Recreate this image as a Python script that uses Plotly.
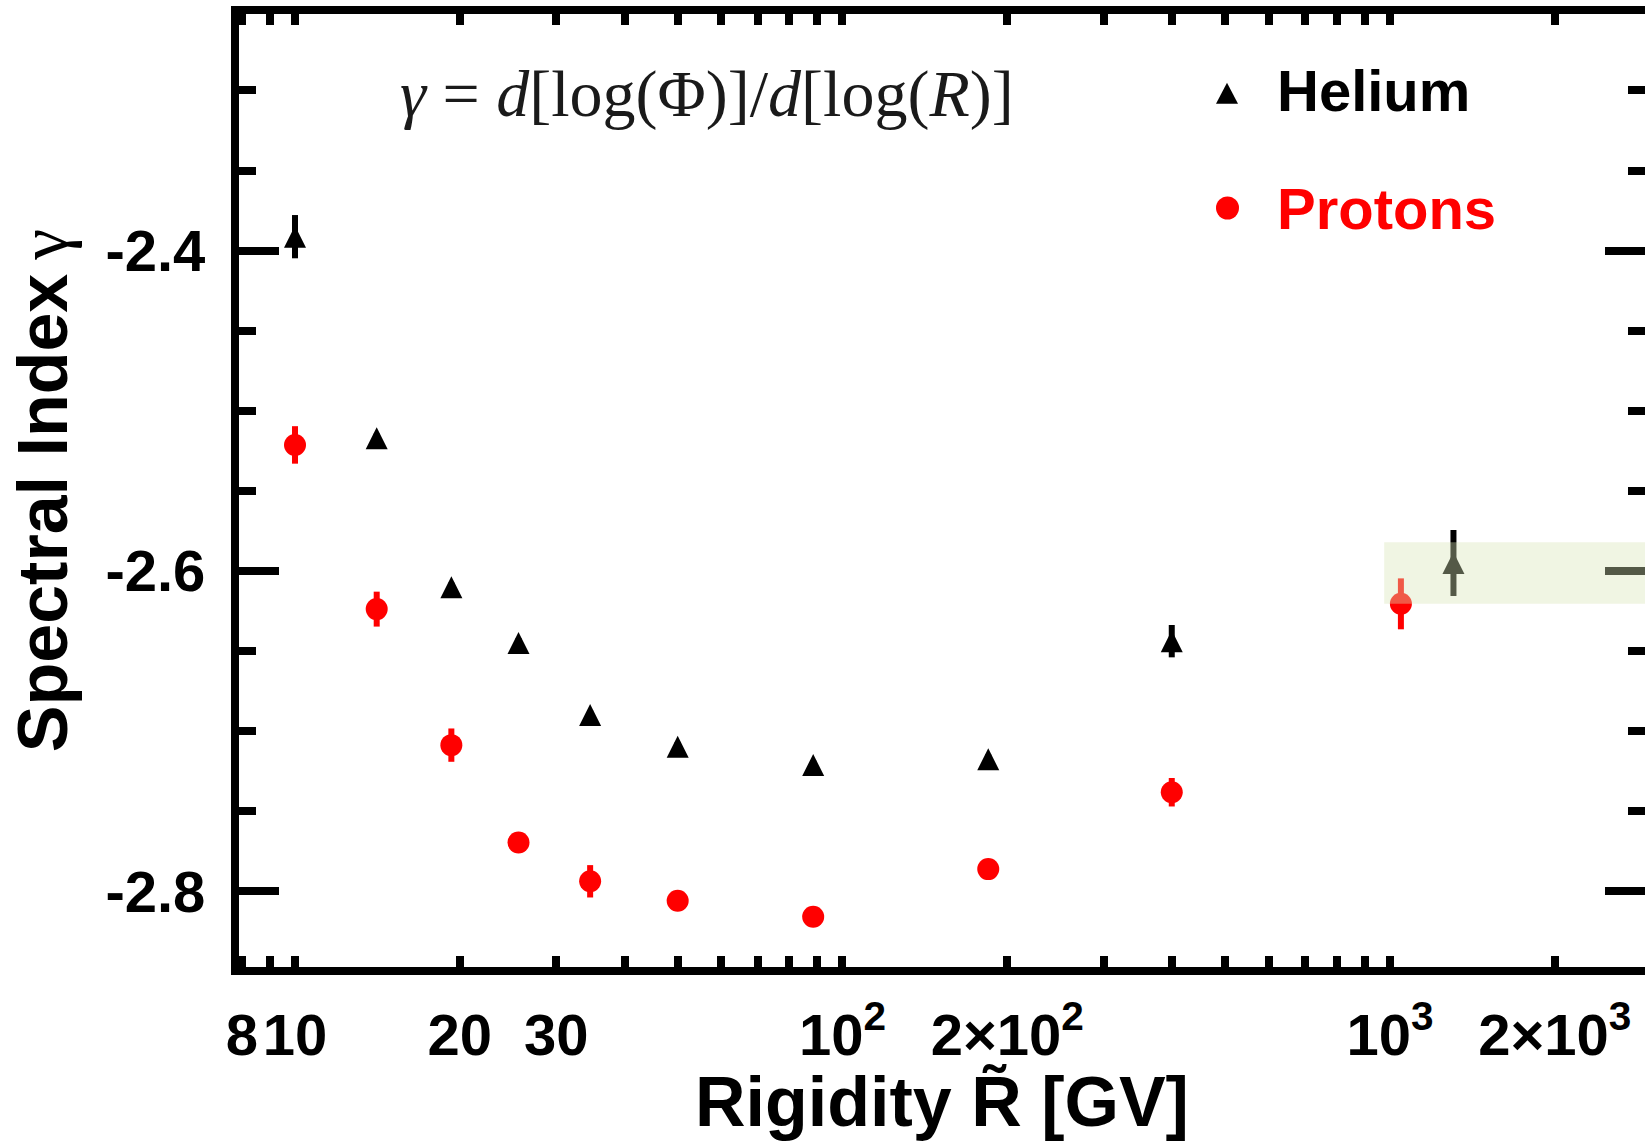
import math
import plotly.graph_objects as go

# ---------------- data ----------------
he_rigidity = [10.0, 14.1, 19.3, 25.6, 34.6, 50.0, 88.4, 184.6, 399.4, 1306.0]
he_gamma = [-2.3913, -2.5172, -2.6102, -2.6449, -2.6899, -2.7097, -2.7211, -2.7175, -2.6438, -2.5950]
he_err = [0.0135, 0.003, 0.003, 0.003, 0.003, 0.003, 0.003, 0.003, 0.0101, 0.0206]

p_rigidity = [10.0, 14.1, 19.3, 25.6, 34.6, 50.0, 88.4, 184.6, 399.4, 1047.0]
p_gamma = [-2.5213, -2.6238, -2.7087, -2.7695, -2.7937, -2.8059, -2.8158, -2.7861, -2.7381, -2.6205]
p_err = [0.0117, 0.0109, 0.0104, 0.005, 0.0101, 0.005, 0.005, 0.005, 0.0089, 0.0159]

band_rigidity = [976.0, 4000.0]
band_gamma = [-2.6205, -2.5820]

x_label_vals = [8, 10, 20, 30, 100, 200, 1000, 2000]
x_label_text = ["8", "10", "20", "30", "10<sup>2</sup>", "2×10<sup>2</sup>", "10<sup>3</sup>", "2×10<sup>3</sup>"]
x_major_vals = [10, 100, 1000]
x_minor_vals = [9, 40, 50, 60, 70, 80, 90, 300, 400, 500, 600, 700, 800, 900]
y_label_vals = [-2.8, -2.6, -2.4]
y_label_text = ["-2.8", "-2.6", "-2.4"]

x_range_log = [0.8977, 3.4658]
y_range = [-2.8472, -2.2523]

# ---------------- layout geometry ----------------
W, H = 1645, 1141
ML, MR, MT, MB = 239, 0, 14, 174
PW, PH = W - ML - MR, H - MT - MB


def px_x(px):
    return (px - ML) / PW


def px_y(py):
    return (H - MB - py) / PH


SANS = "Liberation Sans"
SERIF = "Liberation Serif"

fig = go.Figure()

fig.add_trace(go.Scatter(
    x=he_rigidity, y=he_gamma, mode="markers", name="Helium",
    marker=dict(symbol="arrow-down", angle=180, standoff=11, size=22,
                color="black", line=dict(width=0)),
    error_y=dict(type="data", array=he_err, visible=True, color="black",
                 thickness=6, width=0),
    showlegend=False,
))

fig.add_trace(go.Scatter(
    x=p_rigidity, y=p_gamma, mode="markers", name="Protons",
    marker=dict(symbol="circle", size=22, color="#ff0000", line=dict(width=0)),
    error_y=dict(type="data", array=p_err, visible=True, color="#ff0000",
                 thickness=6, width=0),
    showlegend=False,
))

tickfont = dict(family=SANS, size=58, color="black", weight="bold")

fig.update_layout(
    width=W, height=H,
    margin=dict(l=ML, r=MR, t=MT, b=MB, pad=0, autoexpand=False),
    paper_bgcolor="white", plot_bgcolor="white",
    showlegend=False,
    xaxis=dict(
        type="log", range=x_range_log, automargin=False,
        tickmode="array", tickvals=x_label_vals, ticktext=x_label_text,
        ticks="inside", ticklen=11, tickwidth=8, tickcolor="black",
        tickangle=0, tickfont=tickfont, ticklabelstandoff=10,
        minor=dict(tickmode="array", tickvals=x_minor_vals, ticks="inside",
                   ticklen=11, tickwidth=8, tickcolor="black", showgrid=False),
        showline=True, linewidth=8, linecolor="black", mirror="ticks",
        showgrid=False, zeroline=False,
        title=dict(text="Rigidity R\u0303 [GV]",
                   font=dict(family=SANS, size=70, color="black", weight="bold"),
                   standoff=10),
    ),
    xaxis2=dict(
        type="log", range=x_range_log, overlaying="x", anchor="y", side="bottom",
        automargin=False,
        tickmode="array", tickvals=x_major_vals, showticklabels=False,
        ticks="inside", ticklen=25, tickwidth=8, tickcolor="black",
        showline=True, linewidth=8, linecolor="black", mirror="ticks",
        showgrid=False, zeroline=False,
    ),
    yaxis=dict(
        range=y_range, automargin=False,
        tickmode="array", tickvals=y_label_vals, ticktext=y_label_text,
        ticks="inside", ticklen=40, tickwidth=8, tickcolor="black",
        tickfont=tickfont, ticklabelstandoff=14,
        minor=dict(tickmode="linear", tick0=-2.8, dtick=0.05, ticks="inside",
                   ticklen=17, tickwidth=8, tickcolor="black", showgrid=False),
        showline=True, linewidth=8, linecolor="black", mirror="ticks",
        showgrid=False, zeroline=False,
        title=dict(text="Spectral Index\u2009<span style=\"font-weight:normal;font-family:'Liberation Serif'\">γ</span>",
                   font=dict(family=SANS, size=70, color="black", weight="bold"),
                   standoff=18),
    ),
)

# semi-transparent band drawn over the data
fig.add_shape(type="rect", xref="x", yref="y",
              x0=band_rigidity[0], x1=band_rigidity[1],
              y0=band_gamma[0], y1=band_gamma[1],
              fillcolor="rgba(217,230,184,0.39)", line=dict(width=0), layer="above")

# formula
fig.add_annotation(
    xref="paper", yref="paper", x=px_x(398), y=px_y(94), xanchor="left", yanchor="middle",
    text="<i>γ</i> = <i>d</i>[log(Φ)]/<i>d</i>[log(<i>R</i>)]",
    showarrow=False, font=dict(family=SERIF, size=66, color="#1a1a1a"),
)

# legend keys
fig.add_shape(type="path", xref="paper", yref="paper",
              xsizemode="pixel", ysizemode="pixel",
              xanchor=px_x(1227), yanchor=px_y(93.3),
              path="M -11 -10.5 L 11 -10.5 L 0 10.5 Z",
              fillcolor="black", line=dict(width=0), layer="above")
fig.add_shape(type="circle", xref="paper", yref="paper",
              xsizemode="pixel", ysizemode="pixel",
              xanchor=px_x(1227.5), yanchor=px_y(208),
              x0=-11.5, x1=11.5, y0=-11.5, y1=11.5,
              fillcolor="#ff0000", line=dict(width=0), layer="above")
fig.add_annotation(
    xref="paper", yref="paper", x=px_x(1275), y=px_y(90.8), xanchor="left", yanchor="middle",
    text="Helium", showarrow=False,
    font=dict(family=SANS, size=58, color="black", weight="bold"),
)
fig.add_annotation(
    xref="paper", yref="paper", x=px_x(1275), y=px_y(208), xanchor="left", yanchor="middle",
    text="Protons", showarrow=False,
    font=dict(family=SANS, size=58, color="#ff0000", weight="bold"),
)

fig.write_html("out.html")
